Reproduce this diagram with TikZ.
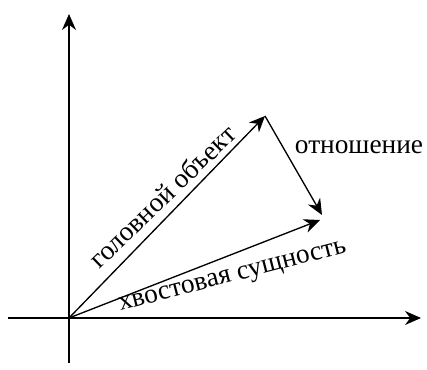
\documentclass[tikz,border=0pt]{standalone}
\usepackage{fontspec}
\setmainfont{Liberation Serif}
\usetikzlibrary{arrows.meta}

\begin{document}
\begin{tikzpicture}[x=0.75pt,y=0.75pt,
  vec/.style={line width=1pt,-{Stealth[length=12pt,width=10.5pt]}},
  lbl/.style={font=\fontsize{20.5}{24}\selectfont,inner sep=0pt}]
\useasboundingbox (0,0) rectangle (427,370);
% axes
\coordinate (O) at (69,52);
\coordinate (xl) at (8,52);
\coordinate (xr) at (421,52);
\coordinate (yb) at (69,7);
\coordinate (yt) at (69,356);
\draw[vec] (xl) -- (xr);
\draw[vec] (yb) -- (yt);

% vectors
\coordinate (H) at (265,254);
\coordinate (T) at (320,150);
\coordinate (R) at (322,155);
\draw[vec] (O) -- (H);
\draw[vec] (O) -- (T);
\draw[vec] (H) -- (R);

% labels
\node[lbl,rotate=44] (headlbl) at (162,174) {головной объект};
\node[lbl,rotate=14.5] (taillbl) at (233,92) {хвостовая сущность};
\node[lbl] (rellbl) at (359,223) {отношение};

\end{tikzpicture}
\end{document}
